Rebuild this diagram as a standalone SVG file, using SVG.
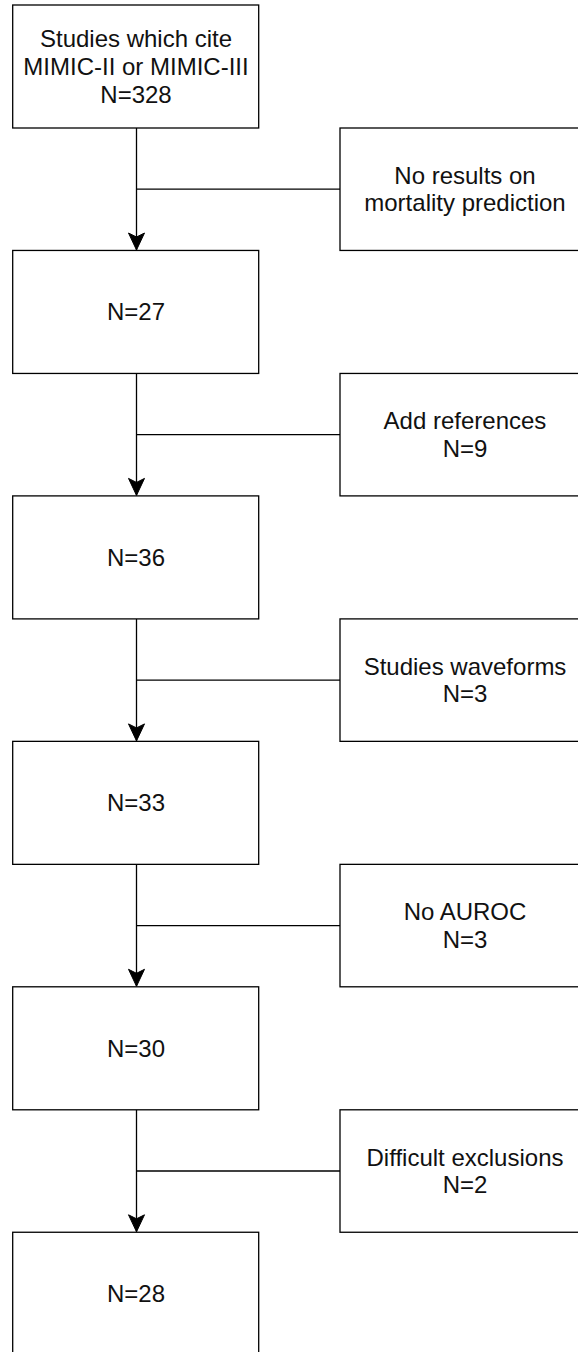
<svg xmlns="http://www.w3.org/2000/svg" width="578" height="1352" viewBox="0 0 578 1352">
<style>
.box{fill:#ffffff;stroke:#000000;stroke-width:1.3}
.edge{fill:none;stroke:#000000;stroke-width:1.3}
.t{font-family:"Liberation Sans",Arial,sans-serif;font-size:24px;fill:#111111;text-anchor:middle}
</style>
<defs>
<marker id="arr" markerUnits="userSpaceOnUse" markerWidth="20" markerHeight="20" viewBox="-18 -10 20 20" refX="0" refY="0" orient="auto">
<path d="M0,0 L-17,-8 L-13,0 L-17,8 Z" fill="#000000" stroke="#000000" stroke-width="1"/>
</marker>
</defs>
<rect width="578" height="1352" fill="#ffffff"/>
<g id="connectors">
<path class="edge" d="M136.5,128 L136.5,250" marker-end="url(#arr)"/>
<path class="edge" d="M136.5,189.2 L340,189.2"/>
<path class="edge" d="M136.5,373.45 L136.5,495.4" marker-end="url(#arr)"/>
<path class="edge" d="M136.5,434.7 L340,434.7"/>
<path class="edge" d="M136.5,618.9 L136.5,740.9" marker-end="url(#arr)"/>
<path class="edge" d="M136.5,680.1 L340,680.1"/>
<path class="edge" d="M136.5,864.35 L136.5,986.3" marker-end="url(#arr)"/>
<path class="edge" d="M136.5,925.6 L340,925.6"/>
<path class="edge" d="M136.5,1109.8 L136.5,1231.8" marker-end="url(#arr)"/>
<path class="edge" d="M136.5,1171 L340,1171"/>
</g>
<g id="n1">
<rect class="box" x="12.7" y="5" width="246" height="123"/>
<text class="t" x="136" y="47.4">Studies which cite</text>
<text class="t" x="136" y="75">MIMIC-II or MIMIC-III</text>
<text class="t" x="136" y="102.6">N=328</text>
</g>
<g id="s1">
<rect class="box" x="340" y="128" width="250" height="122.45"/>
<text class="t" x="465" y="183.8">No results on</text>
<text class="t" x="465" y="211.4">mortality prediction</text>
</g>
<g id="n2">
<rect class="box" x="12.7" y="250.45" width="246" height="123"/>
<text class="t" x="136" y="320.4">N=27</text>
</g>
<g id="s2">
<rect class="box" x="340" y="373.45" width="250" height="122.45"/>
<text class="t" x="465" y="429.3">Add references</text>
<text class="t" x="465" y="456.9">N=9</text>
</g>
<g id="n3">
<rect class="box" x="12.7" y="495.9" width="246" height="123"/>
<text class="t" x="136" y="565.8">N=36</text>
</g>
<g id="s3">
<rect class="box" x="340" y="618.9" width="250" height="122.45"/>
<text class="t" x="465" y="674.7">Studies waveforms</text>
<text class="t" x="465" y="702.3">N=3</text>
</g>
<g id="n4">
<rect class="box" x="12.7" y="741.35" width="246" height="123"/>
<text class="t" x="136" y="811.3">N=33</text>
</g>
<g id="s4">
<rect class="box" x="340" y="864.35" width="250" height="122.45"/>
<text class="t" x="465" y="920.2">No AUROC</text>
<text class="t" x="465" y="947.8">N=3</text>
</g>
<g id="n5">
<rect class="box" x="12.7" y="986.8" width="246" height="123"/>
<text class="t" x="136" y="1056.7">N=30</text>
</g>
<g id="s5">
<rect class="box" x="340" y="1109.8" width="250" height="122.45"/>
<text class="t" x="465" y="1165.6">Difficult exclusions</text>
<text class="t" x="465" y="1193.2">N=2</text>
</g>
<g id="n6">
<rect class="box" x="12.7" y="1232.25" width="246" height="123"/>
<text class="t" x="136" y="1302.2">N=28</text>
</g>
</svg>
